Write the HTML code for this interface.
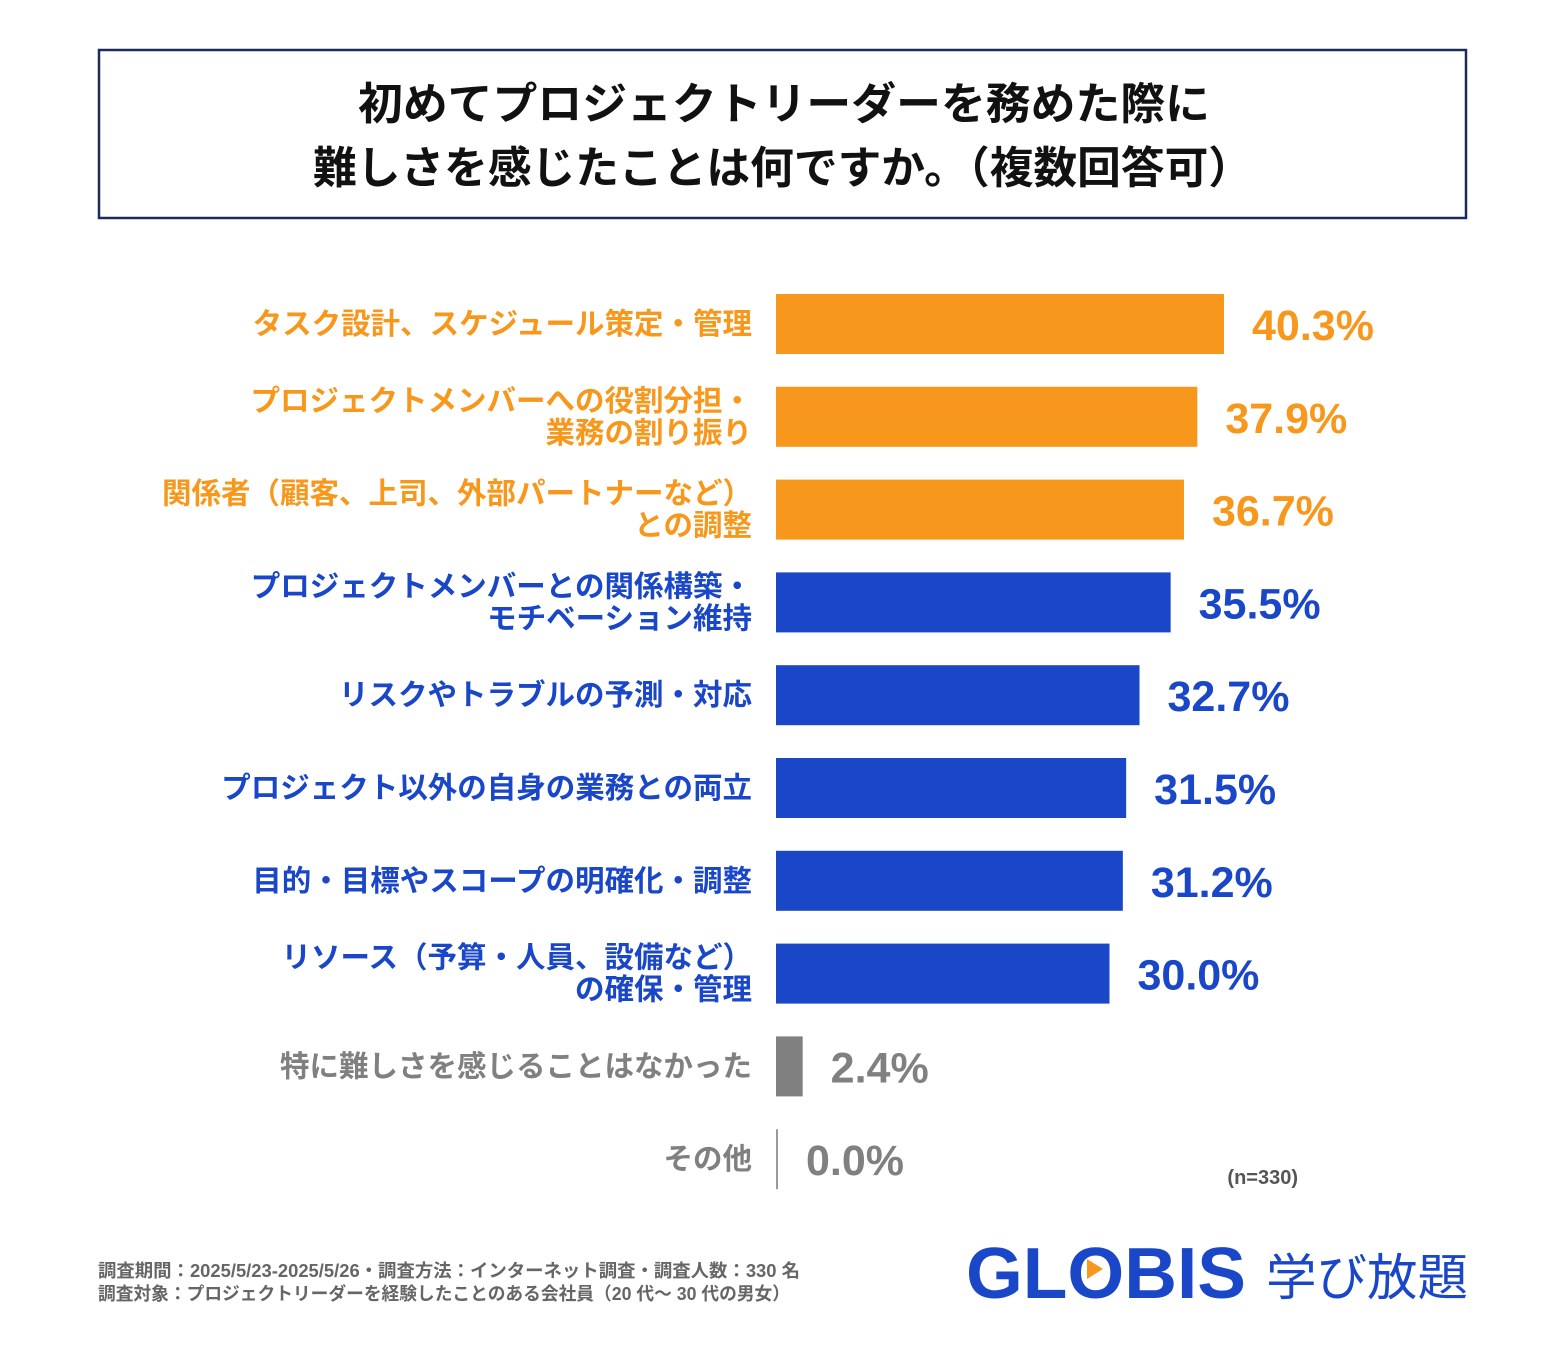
<!DOCTYPE html>
<html><head><meta charset="utf-8">
<style>
body{margin:0;background:#fff;width:1566px;height:1350px;overflow:hidden;font-family:"Liberation Sans","Noto Sans CJK JP",sans-serif;}
</style></head>
<body>
<svg id="chart" width="1566" height="1350" xmlns="http://www.w3.org/2000/svg" font-family="Liberation Sans, Noto Sans CJK JP, sans-serif">
<rect x="99" y="50" width="1367" height="168" fill="#fff" stroke="#1d2a5c" stroke-width="2.5"/>
<text x="358" y="119" font-size="44" font-weight="bold" fill="#111" textLength="852" lengthAdjust="spacingAndGlyphs">初めてプロジェクトリーダーを務めた際に</text>
<text x="313" y="183" font-size="44" font-weight="bold" fill="#111" textLength="939" lengthAdjust="spacingAndGlyphs">難しさを感じたことは何ですか。（複数回答可）</text>
<g id="bars"></g>
<text x="1298" y="1184" text-anchor="end" font-size="20" font-weight="bold" fill="#555">(n=330)</text>
<text x="98" y="1277" font-size="18" font-weight="bold" fill="#666" textLength="702" lengthAdjust="spacingAndGlyphs">調査期間：2025/5/23-2025/5/26・調査方法：インターネット調査・調査人数：330 名</text>
<text x="98" y="1300" font-size="18" font-weight="bold" fill="#666" textLength="692" lengthAdjust="spacingAndGlyphs">調査対象：プロジェクトリーダーを経験したことのある会社員（20 代～ 30 代の男女）</text>
<g>
<text x="966" y="1298" font-size="72" font-weight="bold" fill="#1a47c8" textLength="280" lengthAdjust="spacingAndGlyphs">GLOBIS</text>
<polygon points="1087,1259 1087,1279 1103,1269" fill="#f7981d"/>
<text x="1266" y="1295" font-size="50" fill="#1a47c8" textLength="202" lengthAdjust="spacingAndGlyphs">学び放題</text>
</g>
</svg>
<script>
const categories=[["タスク設計、スケジュール策定・管理"],["プロジェクトメンバーへの役割分担・","業務の割り振り"],["関係者（顧客、上司、外部パートナーなど）","との調整"],["プロジェクトメンバーとの関係構築・","モチベーション維持"],["リスクやトラブルの予測・対応"],["プロジェクト以外の自身の業務との両立"],["目的・目標やスコープの明確化・調整"],["リソース（予算・人員、設備など）","の確保・管理"],["特に難しさを感じることはなかった"],["その他"]];
const values=[40.3,37.9,36.7,35.5,32.7,31.5,31.2,30.0,2.4,0.0];
const groups=["o","o","o","b","b","b","b","b","g","g"];
const colors={o:"#f7981d",b:"#1a47c8",g:"#808080"};
const x0=776, pxPer=448/40.3, y0=324, step=92.8, bh=60;
const xs=v=>x0+v*pxPer;
const ys=i=>y0+i*step;
const NS="http://www.w3.org/2000/svg";
const g=document.getElementById("bars");
function mk(tag,attrs){const e=document.createElementNS(NS,tag);for(const k in attrs)e.setAttribute(k,attrs[k]);g.appendChild(e);return e;}
values.forEach((v,i)=>{
  const c=colors[groups[i]], cy=ys(i);
  let bar;
  if(v>0){bar=mk("rect",{x:x0,y:cy-bh/2,width:xs(v)-x0,height:bh,fill:c});}
  else{bar=mk("rect",{x:x0,y:cy-bh/2,width:2,height:bh,fill:"#999"});}
  
  
  const lines=categories[i];
  const lbl=mk("text",{x:752,"text-anchor":"end","font-size":29.5,"font-weight":"bold",fill:c});
  
  
  lines.forEach((t,j)=>{const ts=document.createElementNS(NS,"tspan");ts.setAttribute("x",752);ts.setAttribute("y",cy+10+(lines.length==2?(j==0?-16:16):0));ts.textContent=t;lbl.appendChild(ts);});
  const val=mk("text",{x:Math.max(xs(v),x0+2)+28,y:cy+16,"font-size":43,"font-weight":"bold",fill:c});
  val.textContent=v.toFixed(1)+"%";
  
  
});
</script>
</body></html>
